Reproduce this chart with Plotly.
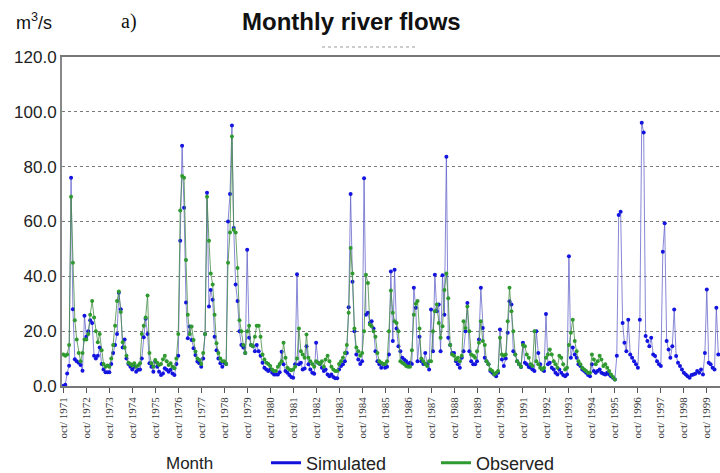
import pandas as pd
import plotly.graph_objects as go

# Monthly flows (m3/s), water years Oct..Sep, starting Oct 1971
observed = [
    11.5, 11, 11.5, 15, 69, 45, 24, 17, 12, 9, 12, 17,            # 1971-72
    17, 19, 26, 31, 25, 20, 16, 19, 13, 8, 7, 7.5,                 # 1972-73
    7, 10, 15, 22, 31, 34.5, 27, 16, 14, 11, 8.5, 8,               # 1973-74
    7.5, 8.3, 7, 7.5, 8.3, 19, 22, 25, 33, 12, 8.3, 7,             # 1974-75
    9.5, 8.5, 7.7, 8, 9.8, 11, 9, 7.7, 8.3, 7, 6.5, 10,            # 1975-76
    19, 64, 76.6, 76, 46, 26, 19, 21.7, 16.8, 12.6, 10, 9.5,       # 1976-77
    8, 12, 19, 69, 53, 41, 37, 26, 15.6, 12, 10, 9,                # 1977-78
    9, 8, 45, 56, 91, 57, 56, 43, 24, 20, 15, 12,                  # 1978-79
    20, 22, 15, 14.5, 18, 22, 22, 18, 11.5, 9.7, 8.5, 8,           # 1979-80
    7.3, 6, 5.5, 5.5, 7, 8, 9, 15.8, 10.3, 6.7, 6, 5.7,            # 1980-81
    6, 7, 10, 21, 12.7, 11.5, 10.3, 18.8, 10.3, 9, 8, 7,           # 1981-82
    9, 8.5, 8, 9, 7, 9.7, 11, 9, 7, 6, 5.5, 5.5,                   # 1982-83
    8, 9, 10.3, 12, 15, 26.7, 50.3, 41, 21, 14, 12.7, 11,          # 1983-84
    12, 20, 40.6, 37.6, 22.4, 21.8, 20, 18, 12, 9, 8.5, 8,         # 1984-85
    8, 9, 20, 34.8, 26.7, 23.6, 23, 20, 9, 8.5, 8, 7.3,            # 1985-86
    7, 7, 13, 26, 30, 31, 21, 10, 9, 8, 7.3, 9,                    # 1986-87
    9, 20, 27.3, 29.7, 23, 17.6, 21.8, 35, 41, 32, 15, 11.5,       # 1987-88
    11, 9.7, 10.3, 9, 11, 23.6, 21.2, 29, 20, 11.5, 11, 10.3,      # 1988-89
    12.7, 15.8, 23.6, 16.4, 15, 9, 7.9, 6, 5.5, 4.2, 4.8, 5.5,     # 1989-90
    17.6, 11.5, 11, 11.5, 23.6, 35.8, 27.3, 20, 11.5, 9, 7.9, 7,   # 1990-91
    15, 14.5, 11.5, 10.3, 7.9, 7.3, 20, 9, 7.9, 6.7, 6, 6.7,       # 1991-92
    10.3, 11.5, 13.3, 11.5, 9, 7.9, 6.7, 11, 10.3, 7.9, 6, 6.7,    # 1992-93
    15, 19.4, 24.2, 16.4, 12.7, 9, 7.9, 6.7, 6, 5.5, 4.8, 4.8,     # 1993-94
    11.5, 9.7, 7.9, 9, 11, 9.7, 7.3, 7.9, 6.7, 5.5, 4.2, 3.3,      # 1994-95
    2.4,                                                           # Oct 1995
]

simulated = [
    0, 0.5, 4.6, 7.4, 76, 28, 9.8, 9, 8.5, 7.7, 5.6, 25.6,         # 1971-72
    18, 20, 24, 23, 11, 10, 11, 14, 8, 6, 5, 5,                    # 1972-73
    5, 8, 12, 15, 19, 34, 28, 14, 17, 10, 8, 7,                    # 1973-74
    6, 7, 5.2, 5.9, 6, 10, 17.8, 24.5, 19, 8.3, 7, 5.2,            # 1974-75
    8.9, 7, 5.2, 4, 4.6, 6.5, 5.9, 5.2, 5.9, 4.6, 4, 8,            # 1975-76
    11, 53, 87.6, 65, 30.5, 17.4, 21.7, 16.8, 13.8, 11.3, 8.9, 8.3,  # 1976-77
    7, 10, 19, 70.5, 29, 35, 31.5, 18, 13, 10, 8.3, 7,             # 1977-78
    8.5, 8, 60, 70, 95, 57.6, 37, 31, 20, 15, 14, 12,              # 1978-79
    49.7, 17.6, 15, 14.5, 12.7, 15, 12.7, 11, 8.5, 6.7, 6, 5.5,    # 1979-80
    6, 4.8, 4.2, 4.2, 4.2, 5, 12.5, 7.9, 5.5, 4.8, 4, 3.3,         # 1980-81
    3, 7.9, 40.8, 7.9, 8.5, 6, 6.4, 14.5, 7.9, 6, 4.8, 4.5,        # 1981-82
    15.8, 8.5, 8, 6.7, 5.5, 6, 4.2, 3.6, 4.2, 3.3, 2.8, 2.8,       # 1982-83
    6, 7.3, 7.9, 9, 12, 28.7, 70, 38, 20, 11.5, 9.7, 8,            # 1983-84
    9, 75.8, 26, 26.7, 23, 23.6, 21, 12.7, 9, 7.9, 6.7, 7.9,       # 1984-85
    6.7, 7, 11.5, 41.8, 16.4, 42.4, 21, 14.5, 12.7, 10.3, 9.7, 9,  # 1985-86
    8, 8.5, 8, 35.8, 28.5, 9, 18, 9, 8, 12, 7.9, 6,                # 1986-87
    27.9, 12.7, 40.6, 27.3, 29.7, 12.7, 40.4, 26, 83.6, 17.6, 15, 12,  # 1987-88
    12, 9, 7.9, 6.7, 10.3, 12.7, 20, 30.3, 12.7, 9, 7.9, 7.9,      # 1988-89
    9, 17, 35.8, 21.2, 10.3, 9, 7.9, 5.5, 4.8, 4.2, 3.6, 4.8,      # 1989-90
    20.6, 9.7, 7.3, 10, 19.4, 30.9, 29.7, 12.7, 11.5, 9, 7.9, 6.9, # 1990-91
    15.8, 8.5, 7.9, 6.9, 6.7, 6, 5.5, 20, 12, 7.9, 6, 5.5,         # 1991-92
    26.3, 7.9, 8.5, 6.7, 6, 4.8, 4.2, 6, 4.8, 4, 3.6, 4.2,         # 1992-93
    47.3, 10.3, 14, 11.5, 10.3, 7.9, 7.3, 6, 5.5, 4.8, 4, 3.6,     # 1993-94
    7.9, 5.5, 4.8, 5.5, 6, 4.8, 4.5, 4.2, 4.8, 4.2, 3.6, 3,        # 1994-95
    2.4, 11, 62.4, 63.6, 23, 15.8, 12.7, 24.2, 11.5, 10.3, 9, 7.9, # 1995-96
    6.7, 24.2, 96, 92.5, 18.2, 16.4, 14.5, 17.6, 11.5, 10.9, 9, 7.9,  # 1996-97
    7.3, 49, 59.4, 16.4, 13.3, 10.3, 14.5, 27.9, 10.9, 8.5, 7.3, 6,   # 1997-98
    4.8, 4.2, 3.6, 3, 4, 4.2, 4.5, 5.5, 4.8, 6, 4.2, 12,           # 1998-99
    35.2, 8.5, 7.9, 6.7, 6, 28.5, 11.5,                            # 1999-2000
]

tick_years = list(range(1971, 2000))
tick_labels = [f"oct/ {y}" for y in tick_years]
y_ticks = [0, 20, 40, 60, 80, 100, 120]

months_sim = pd.date_range("1971-10-01", periods=len(simulated), freq="MS")
months_obs = pd.date_range("1971-10-01", periods=len(observed), freq="MS")
tick_dates = [pd.Timestamp(f"{y}-10-01") for y in tick_years]

SANS = "Liberation Sans, Arial, sans-serif"
SERIF = "Liberation Serif, Times New Roman, serif"
BLUE_DOT = "#1414e0"
BLUE_LINE = "rgba(95,95,200,0.75)"
GREEN_DOT = "#2f9a2f"
GREEN_LINE = "rgba(70,140,70,0.8)"

ML, MR, MT, MB = 62, 0, 57, 87
W, H = 720, 473
plot_w = W - ML - MR
plot_h = H - MT - MB

fig = go.Figure()
fig.add_trace(go.Scatter(
    x=months_sim, y=simulated, mode="lines+markers", name="Simulated",
    line=dict(color=BLUE_LINE, width=1), marker=dict(color=BLUE_DOT, size=4),
    showlegend=False))
fig.add_trace(go.Scatter(
    x=months_obs, y=observed, mode="lines+markers", name="Observed",
    line=dict(color=GREEN_LINE, width=1), marker=dict(color=GREEN_DOT, size=4),
    showlegend=False))
# legend entries (line only)
fig.add_trace(go.Scatter(x=[None], y=[None], mode="lines", name="Simulated",
                         line=dict(color="#1010d8", width=3)))
fig.add_trace(go.Scatter(x=[None], y=[None], mode="lines", name="Observed",
                         line=dict(color="#2f9a2f", width=3)))


def px_x(p):
    return (p - ML) / plot_w


def px_y(p):
    return 1 - (p - MT) / plot_h


fig.update_layout(
    width=W, height=H,
    margin=dict(l=ML, r=MR, t=MT, b=MB, autoexpand=False),
    paper_bgcolor="white", plot_bgcolor="white",
    showlegend=True,
    legend=dict(orientation="h", x=px_x(266), xanchor="left", y=px_y(463), yanchor="middle",
                font=dict(family=SANS, size=18, color="#222"),
                entrywidth=125, bgcolor="rgba(0,0,0,0)"),
    xaxis=dict(
        range=[pd.Timestamp("1971-09-10"), pd.Timestamp("2000-04-28")],
        tickmode="array", tickvals=tick_dates, ticktext=tick_labels,
        tickangle=-90, tickfont=dict(family=SERIF, size=11, color="#333"),
        ticks="outside", ticklen=5, tickcolor="#555",
        showgrid=False, showline=True, linecolor="#777", linewidth=1.5,
        mirror=True, zeroline=False),
    yaxis=dict(
        range=[0, 120], tickmode="array", tickvals=y_ticks,
        ticktext=[f"{v:.1f}" for v in y_ticks],
        tickfont=dict(family=SANS, size=17, color="#222"),
        ticks="", ticklabelstandoff=0,
        showgrid=True, gridcolor="#7a7a7a", griddash="dot", gridwidth=1,
        showline=True, linecolor="#888", linewidth=2, zeroline=False),
    annotations=[
        dict(text="<b>Monthly river flows</b>", x=px_x(351), y=px_y(22),
             font=dict(family=SANS, size=24, color="#111")),
        dict(text="m<sup>3</sup>/s", x=px_x(34), y=px_y(22),
             font=dict(family=SANS, size=18, color="#111")),
        dict(text="a)", x=px_x(129), y=px_y(22),
             font=dict(family=SERIF, size=20, color="#111")),
        dict(text="Month", x=px_x(189), y=px_y(463),
             font=dict(family=SANS, size=17, color="#222")),
    ],
)
fig.update_annotations(xref="paper", yref="paper", showarrow=False,
                       xanchor="center", yanchor="middle")

# faint dotted line under the title
fig.add_shape(type="line", xref="paper", yref="paper",
              x0=px_x(322), x1=px_x(416), y0=px_y(47), y1=px_y(47),
              line=dict(color="#999", width=1, dash="dot"))

fig.write_html("out.html")
